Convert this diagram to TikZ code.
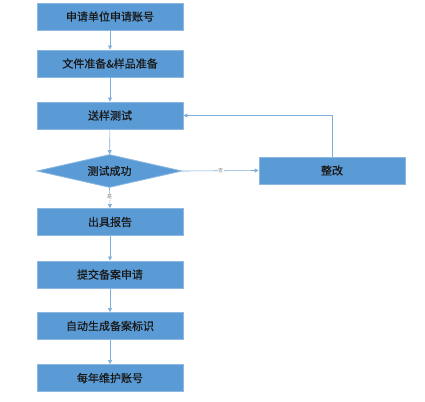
\documentclass[tikz,border=0pt]{standalone}
\usepackage{fontspec}
\newfontfamily\cjk[FakeBold=0.6]{Noto Sans CJK SC}
\newfontfamily\cjklight{Noto Sans CJK SC}
\usetikzlibrary{shapes.geometric,arrows.meta}
\definecolor{boxfill}{HTML}{5B9BD5}
\definecolor{boxline}{HTML}{8DB8E2}
\definecolor{lineblue}{HTML}{7EAEDC}
\begin{document}
\begin{tikzpicture}[x=1pt,y=-1pt,
  boxtext/.style={font=\cjk\fontsize{11}{12}\selectfont,text=black!90},
  stepbox/.style={boxtext,draw=boxline,line width=0.8pt,fill=boxfill,minimum width=146pt,minimum height=27pt,inner sep=0pt},
  decide/.style={diamond,draw=boxline,line width=0.8pt,fill=boxfill,minimum width=145pt,minimum height=33pt,inner sep=0pt,aspect=4.4},
  conn/.style={draw=lineblue,line width=0.6pt,-{Triangle[length=4pt,width=4pt]}},
  lbl/.style={font=\cjklight\fontsize{5}{6}\selectfont,text=gray,fill=white,inner sep=0.5pt}]
\useasboundingbox (0,0) rectangle (425,401);
\node[stepbox] (a) at (110,16.5) {申请单位申请账号};
\node[stepbox] (b) at (110,63.5) {文件准备\&样品准备};
\node[stepbox] (c) at (110,115.5) {送样测试};
\node[decide] (d) at (109.5,171) {};
\node[boxtext] (dt) at (d.center) {测试成功};
\node[stepbox] (e) at (332,170.5) {整改};
\node[stepbox] (f) at (110,222) {出具报告};
\node[stepbox] (g) at (110,274.5) {提交备案申请};
\node[stepbox] (h) at (110,326) {自动生成备案标识};
\node[stepbox] (i) at (110,378) {每年维护账号};
\coordinate (turn) at (332,115.5);
\draw[conn] (a) -- (b);
\draw[conn] (b) -- (c);
\draw[conn] (c) -- (d);
\draw[conn] (d.east) -- node[lbl] {否} (e.west);
\draw[conn] (d.south) -- node[lbl,pos=0.45] {是} (f.north);
\draw[conn] (f) -- (g);
\draw[conn] (g) -- (h);
\draw[conn] (h) -- (i);
\draw[conn] (e.north) -- (turn) -- (c.east);
\end{tikzpicture}
\end{document}
